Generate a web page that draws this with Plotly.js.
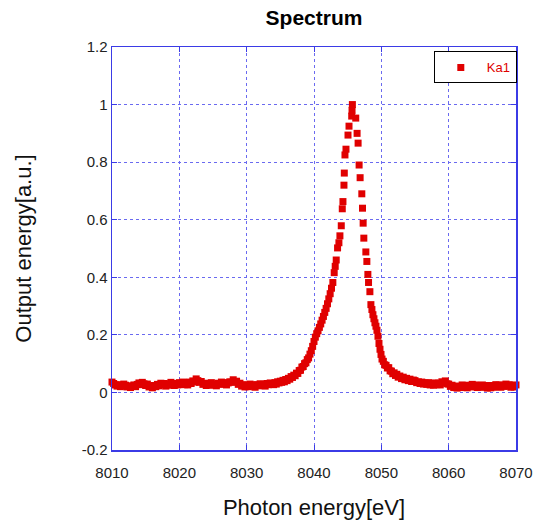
<!DOCTYPE html>
<html>
<head>
<meta charset="utf-8">
<script src="https://cdn.plot.ly/plotly-3.0.1.min.js"></script>
<style>html,body{margin:0;background:#fff;overflow:hidden}#chart{width:535px;height:532px}</style>
</head>
<body>
<div id="chart"></div>
<script>
// Baseline before the peak (photon energy in eV, output in a.u.)
const energyLeft = [
8010.00,8010.25,8010.50,8010.75,8011.00,8011.25,8011.50,8011.75,
8012.00,8012.25,8012.50,8012.75,8013.00,8013.25,8013.50,8013.75,
8014.00,8014.25,8014.50,8014.75,8015.00,8015.25,8015.50,8015.75,
8016.00,8016.25,8016.50,8016.75,8017.00,8017.25,8017.50,8017.75,
8018.00,8018.25,8018.50,8018.75,8019.00,8019.25,8019.50,8019.75,
8020.00,8020.25,8020.50,8020.75,8021.00,8021.25,8021.50,8021.75,
8022.00,8022.25,8022.50,8022.75,8023.00,8023.25,8023.50,8023.75,
8024.00,8024.25,8024.50,8024.75,8025.00,8025.25,8025.50,8025.75,
8026.00,8026.25,8026.50,8026.75,8027.00,8027.25,8027.50,8027.75,
8028.00,8028.25,8028.50,8028.75,8029.00,8029.25,8029.50,8029.75,
8030.00,8030.25,8030.50,8030.75,8031.00,8031.25,8031.50,8031.75,
8032.00,8032.25,8032.50,8032.75,8033.00,8033.25,8033.50,8033.75
];
const signalLeft = [
0.036,0.031,0.026,0.022,0.027,0.020,0.024,0.029,
0.025,0.019,0.023,0.017,0.021,0.026,0.020,0.028,
0.033,0.027,0.035,0.030,0.024,0.029,0.019,0.023,
0.016,0.024,0.020,0.028,0.023,0.032,0.027,0.031,
0.022,0.030,0.025,0.035,0.028,0.024,0.031,0.026,
0.034,0.029,0.036,0.027,0.032,0.026,0.036,0.031,
0.040,0.036,0.047,0.041,0.035,0.038,0.028,0.032,
0.024,0.031,0.027,0.034,0.025,0.029,0.023,0.032,
0.028,0.036,0.030,0.034,0.026,0.033,0.037,0.035,
0.044,0.037,0.039,0.028,0.032,0.022,0.027,0.019,
0.025,0.020,0.029,0.022,0.026,0.018,0.027,0.023,
0.030,0.024,0.028,0.022,0.031,0.027,0.033,0.028
];
// Rising edge and peak
const energyPeak = [
8034.0,8034.2,8034.4,8034.6,8034.8,8035.0,8035.2,8035.4,8035.6,8035.8,
8036.0,8036.2,8036.4,8036.6,8036.8,8037.0,8037.2,8037.4,8037.6,8037.8,
8038.0,8038.2,8038.4,8038.6,8038.8,8039.0,8039.2,8039.4,8039.6,8039.8,
8040.0,8040.2,8040.4,8040.6,8040.8,8041.0,8041.2,8041.4,8041.6,8041.8,
8042.0,8042.2,8042.4,8042.6,8042.8,
8043.0,8043.15,8043.3,8043.5,8043.7,8043.85,8044.05,8044.2,8044.3,8044.45,
8044.5,8044.6,8044.75,8045.05,8045.2,8045.6,8045.65,8045.7,
8046.2,8046.4,8046.55,8046.7,8046.85,8047.1,8047.2,8047.3,8047.4,8047.7,
8047.85,8048.0,8048.1,8048.3,8048.45
];
const signalPeak = [
0.027,0.034,0.029,0.037,0.033,0.039,0.035,0.042,0.037,0.045,
0.041,0.049,0.046,0.055,0.052,0.060,0.058,0.067,0.066,0.076,
0.077,0.088,0.090,0.100,0.103,0.114,0.120,0.133,0.145,0.160,
0.177,0.192,0.204,0.214,0.226,0.238,0.251,0.264,0.278,0.292,
0.308,0.325,0.343,0.362,0.382,
0.416,0.438,0.460,0.502,0.520,0.544,0.579,0.638,0.663,0.720,
0.762,0.825,0.845,0.894,0.925,0.960,0.980,1.000,
0.953,0.900,0.866,0.790,0.746,0.690,0.640,0.588,0.536,0.488,
0.455,0.410,0.382,0.350,0.305
];
// Falling tail and baseline after the peak
const energyRight = [
8048.6,8048.75,8048.9,8049.05,8049.2,8049.35,8049.5,8049.65,8049.8,8049.95,
8050.1,8050.3,8050.5,8050.7,8050.9,8051.1,8051.3,8051.5,8051.7,8051.9,
8052.1,8052.3,8052.5,8052.75,8053.0,8053.25,8053.5,8053.75,8054.0,8054.25,
8054.5,8054.75,
8055.00,8055.25,8055.50,8055.75,8056.00,8056.25,8056.50,8056.75,
8057.00,8057.25,8057.50,8057.75,8058.00,8058.25,8058.50,8058.75,
8059.00,8059.25,8059.50,8059.75,8060.00,8060.25,8060.50,8060.75,
8061.00,8061.25,8061.50,8061.75,8062.00,8062.25,8062.50,8062.75,
8063.00,8063.25,8063.50,8063.75,8064.00,8064.25,8064.50,8064.75,
8065.00,8065.25,8065.50,8065.75,8066.00,8066.25,8066.50,8066.75,
8067.00,8067.25,8067.50,8067.75,8068.00,8068.25,8068.50,8068.75,
8069.00,8069.25,8069.50,8069.75,8070.00
];
const signalRight = [
0.288,0.270,0.256,0.242,0.230,0.216,0.195,0.170,0.150,0.132,
0.116,0.108,0.096,0.094,0.085,0.086,0.075,0.074,0.065,0.068,
0.059,0.063,0.053,0.057,0.048,0.053,0.044,0.049,0.041,0.046,
0.038,0.043,
0.041,0.034,0.037,0.031,0.036,0.029,0.033,0.028,
0.034,0.026,0.031,0.025,0.033,0.027,0.032,0.026,
0.037,0.033,0.040,0.030,0.029,0.021,0.025,0.017,
0.022,0.015,0.021,0.017,0.026,0.019,0.024,0.016,
0.025,0.019,0.028,0.021,0.026,0.017,0.023,0.018,
0.026,0.019,0.024,0.015,0.021,0.016,0.024,0.018,
0.027,0.020,0.025,0.018,0.026,0.021,0.029,0.022,
0.027,0.018,0.024,0.019,0.026
];
const xTicks = [8010,8020,8030,8040,8050,8060,8070];
const xTickText = ['8010','8020','8030','8040','8050','8060','8070'];
const yTicks = [-0.2,0,0.2,0.4,0.6,0.8,1,1.2];
const yTickText = ['-0.2','0','0.2','0.4','0.6','0.8','1','1.2'];

const energy = energyLeft.concat(energyPeak, energyRight);
const signal = signalLeft.concat(signalPeak, signalRight);

const red = '#e00000';
const frame = '#3b3be6';
const grid = '#6a6af0';

const axisCommon = {
  ticks: 'inside', ticklen: 5, tickcolor: frame, tickwidth: 1,
  showline: true, linecolor: frame, linewidth: 1.5, mirror: 'ticks',
  showgrid: true, gridcolor: grid, griddash: 'dot', gridwidth: 1,
  zeroline: false, tickfont: {size: 15, color: '#222'}
};

// The figure is 8 px taller than the window; the extra strip below the
// x-axis title is simply outside the photographed area.
const layout = {
  width: 535, height: 532,
  margin: {l: 112, r: 19, t: 47, b: 82},
  paper_bgcolor: '#fff', plot_bgcolor: '#fff',
  font: {family: '"Liberation Sans", Arial, sans-serif', color: '#222'},
  title: {text: '<b>Spectrum</b>', font: {size: 21, color: '#000'},
          x: 0.5, xref: 'paper', xanchor: 'center',
          y: 1 - 18/532, yref: 'container', yanchor: 'middle'},
  xaxis: Object.assign({}, axisCommon, {
    range: [8010, 8070], tickmode: 'array', tickvals: xTicks, ticktext: xTickText,
    ticklabelstandoff: 8, automargin: 'bottom',
    title: {text: 'Photon energy[eV]', font: {size: 22, color: '#111'}, standoff: 20}
  }),
  yaxis: Object.assign({}, axisCommon, {
    range: [-0.2, 1.2], tickmode: 'array', tickvals: yTicks, ticktext: yTickText,
    automargin: 'left',
    title: {text: 'Output energy[a.u.]', font: {size: 22, color: '#111'}, standoff: 44}
  }),
  showlegend: true,
  legend: {x: 1.002, xanchor: 'right', y: 0.989, yanchor: 'top',
           bordercolor: '#000', borderwidth: 1, bgcolor: '#fff',
           font: {size: 13, color: red}, itemwidth: 42}
};

Plotly.newPlot('chart', [{
  x: energy, y: signal, type: 'scatter', mode: 'markers', name: 'Ka1',
  marker: {symbol: 'square', size: 7, color: red},
  cliponaxis: false
}], layout, {staticPlot: true});
</script>
</body>
</html>
